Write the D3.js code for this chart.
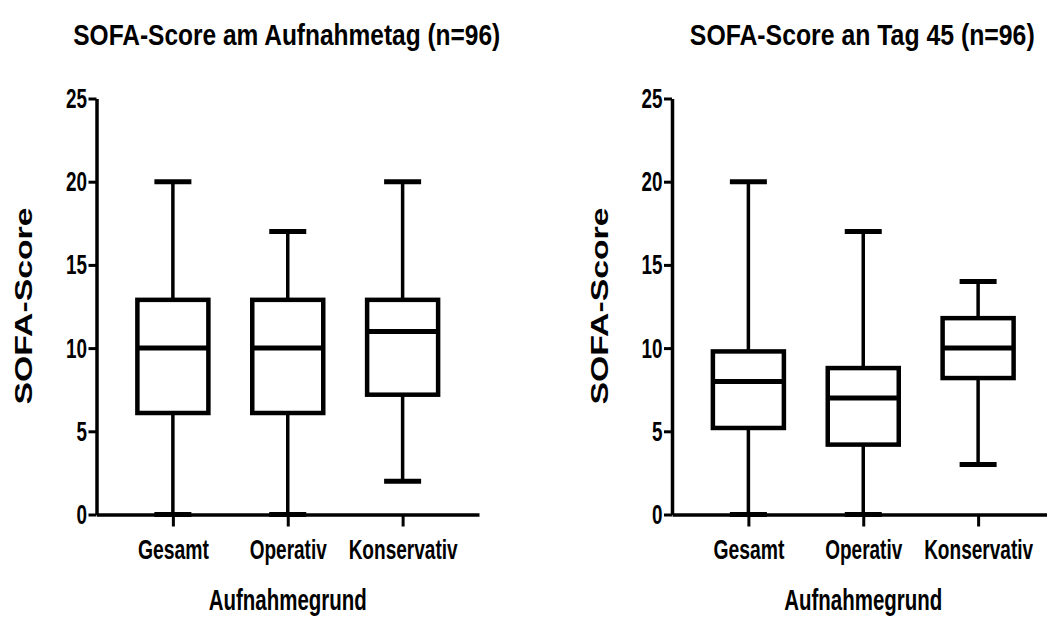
<!DOCTYPE html>
<html>
<head>
<meta charset="utf-8">
<script src="https://cdn.jsdelivr.net/npm/d3@7"></script>
<style>
  body { margin: 0; background: #fff; }
  svg { display: block; }
  text { font-family: "Liberation Sans", Arial, sans-serif; font-weight: bold; fill: #000; }
</style>
</head>
<body>
<div id="chart"></div>
<script>
// categories and tick values
var categories = ["Gesamt", "Operativ", "Konservativ"];
var yTicks = [0, 5, 10, 15, 20, 25];
var titles = ["SOFA-Score am Aufnahmetag (n=96)", "SOFA-Score an Tag 45 (n=96)"];

// Aufnahmetag
var aufnahmeMin    = [0, 0, 2];
var aufnahmeQ1     = [6.1, 6.1, 7.2];
var aufnahmeMedian = [10, 10, 11];
var aufnahmeQ3     = [12.9, 12.9, 12.9];
var aufnahmeMax    = [20, 17, 20];

// Tag 45
var tag45Min    = [0, 0, 3];
var tag45Q1     = [5.2, 4.2, 8.2];
var tag45Median = [8, 7, 10];
var tag45Q3     = [9.8, 8.8, 11.8];
var tag45Max    = [20, 17, 14];

var W = 1047, H = 617;
var svg = d3.select("#chart").append("svg")
    .attr("width", W)
    .attr("height", H);

var y = d3.scaleLinear().domain([0, 25]).range([514.5, 98.5]);

function buildStats(mins, q1, med, q3, maxs) {
  return categories.map(function(c, i) {
    return {cat: c, min: mins[i], q1: q1[i], med: med[i], q3: q3[i], max: maxs[i]};
  });
}

// the text in the picture is condensed: squeeze each label to a width
function squeeze(sel, widthFn) {
  sel.each(function(d) {
    var t = d3.select(this);
    var natural = this.getComputedTextLength();
    var s = widthFn(d) / natural;
    var ax = +t.attr("x") || 0, ay = +t.attr("y") || 0;
    t.attr("transform", "translate(" + ax + "," + ay + ") scale(" + s + ",1) translate(" + (-ax) + "," + (-ay) + ")");
  });
}

var panels = [
  {title: titles[0], tw: 427, x0: 96.5, x1: 479, stats: buildStats(aufnahmeMin, aufnahmeQ1, aufnahmeMedian, aufnahmeQ3, aufnahmeMax)},
  {title: titles[1], tw: 345, x0: 672, x1: 1054.5, stats: buildStats(tag45Min, tag45Q1, tag45Median, tag45Q3, tag45Max)}
];

var catWidth = {"Gesamt": 71, "Operativ": 77, "Konservativ": 109};

var boxW = 71, capW = 37;

panels.forEach(function(p) {
  var x = d3.scalePoint().domain(categories).range([p.x0, p.x1]).padding(0.665);
  var g = svg.append("g");

  // title
  g.append("text")
      .attr("x", (p.x0 + p.x1) / 2 - 1)
      .attr("y", 45)
      .attr("text-anchor", "middle")
      .attr("font-size", 30)
      .text(p.title)
      .call(squeeze, function() { return p.tw; });

  // y axis
  var yAxis = d3.axisLeft(y).tickValues(yTicks).tickSize(8).tickSizeOuter(0).tickPadding(1.5);
  var ya = g.append("g")
      .attr("transform", "translate(" + p.x0 + ",0)")
      .call(yAxis);
  ya.select(".domain").attr("stroke-width", 3.5);
  ya.selectAll(".tick line").attr("stroke-width", 3);
  ya.selectAll(".tick text")
      .attr("font-size", 28)
      .attr("fill", "#000")
      .call(squeeze, function(d) { return String(d).length * 10.5; });

  // x axis
  var xAxis = d3.axisBottom(x).tickSize(12).tickSizeOuter(0);
  var xa = g.append("g")
      .attr("transform", "translate(0," + y(0) + ")")
      .call(xAxis);
  xa.select(".domain").attr("stroke-width", 3.5);
  xa.selectAll(".tick line").attr("stroke-width", 3);
  xa.selectAll(".tick text")
      .attr("font-size", 27)
      .attr("fill", "#000")
      .attr("y", 45)
      .attr("dy", 0)
      .call(squeeze, function(d) { return catWidth[d]; });

  // axis titles
  g.append("text")
      .attr("x", x("Operativ"))
      .attr("y", 610)
      .attr("text-anchor", "middle")
      .attr("font-size", 29)
      .text("Aufnahmegrund")
      .call(squeeze, function() { return 158; });

  g.append("text")
      .attr("transform", "translate(" + (p.x0 - 64.5) + "," + 306 + ") rotate(-90)")
      .attr("text-anchor", "middle")
      .attr("font-size", 23)
      .attr("textLength", 197)
      .attr("lengthAdjust", "spacingAndGlyphs")
      .text("SOFA-Score");

  // boxes
  var box = g.selectAll(".box")
      .data(p.stats)
      .enter().append("g")
      .attr("class", "box");

  box.append("line")
      .attr("x1", function(d) { return x(d.cat); })
      .attr("x2", function(d) { return x(d.cat); })
      .attr("y1", function(d) { return y(d.min); })
      .attr("y2", function(d) { return y(d.q1); })
      .attr("stroke", "#000").attr("stroke-width", 3.5);
  box.append("line")
      .attr("x1", function(d) { return x(d.cat); })
      .attr("x2", function(d) { return x(d.cat); })
      .attr("y1", function(d) { return y(d.q3); })
      .attr("y2", function(d) { return y(d.max); })
      .attr("stroke", "#000").attr("stroke-width", 3.5);

  ["min", "max"].forEach(function(k) {
    box.append("line")
        .attr("x1", function(d) { return x(d.cat) - capW / 2; })
        .attr("x2", function(d) { return x(d.cat) + capW / 2; })
        .attr("y1", function(d) { return y(d[k]); })
        .attr("y2", function(d) { return y(d[k]); })
        .attr("stroke", "#000").attr("stroke-width", 5);
  });

  box.append("rect")
      .attr("x", function(d) { return x(d.cat) - boxW / 2; })
      .attr("y", function(d) { return y(d.q3); })
      .attr("width", boxW)
      .attr("height", function(d) { return y(d.q1) - y(d.q3); })
      .attr("fill", "#fff")
      .attr("stroke", "#000")
      .attr("stroke-width", 4.5);

  box.append("line")
      .attr("x1", function(d) { return x(d.cat) - boxW / 2; })
      .attr("x2", function(d) { return x(d.cat) + boxW / 2; })
      .attr("y1", function(d) { return y(d.med); })
      .attr("y2", function(d) { return y(d.med); })
      .attr("stroke", "#000").attr("stroke-width", 5);
});
</script>
</body>
</html>
